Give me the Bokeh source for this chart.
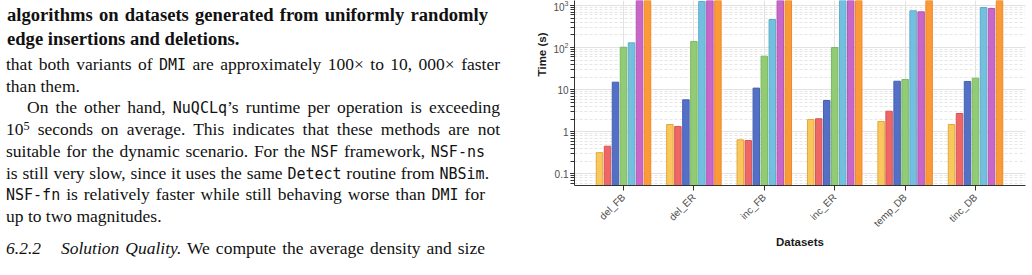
import math
from bokeh.plotting import figure
from bokeh.models import (ColumnDataSource, Range1d, FixedTicker, LogTicker,
                          LogTickFormatter, Title, Div)
from bokeh.transform import dodge
from bokeh.layouts import row
from bokeh.embed import file_html
from bokeh.resources import INLINE

# ---------------- data ----------------
categories = ["del_FB", "del_ER", "inc_FB", "inc_ER", "temp_DB", "tinc_DB"]
series_names = ["DMI", "DMI-s", "NSF-fn", "NSF-ns", "NBSim", "QCLq", "NuQCLq"]
dmi      = [0.32, 1.49, 0.645, 1.96, 1.76, 1.49]
dmi_s    = [0.455, 1.34, 0.62, 2.04, 3.08, 2.72]
nsf_fn   = [15.1, 5.75, 10.9, 5.54, 15.9, 15.7]
nsf_ns   = [102, 140, 62.5, 100.5, 17.5, 18.8]
nbsim    = [130, 1245, 465, 2400, 748, 896]
qclq     = [5200, 4800, 3900, 4100, 708, 849]
nuqclq   = [120000, 130000, 110000, 125000, 9000, 8500]
series_values = [dmi, dmi_s, nsf_fn, nsf_ns, nbsim, qclq, nuqclq]

fill_colors = ["#f9c85c", "#ee6666", "#5470c6", "#91cc75", "#73c0de", "#c966c9", "#fd9a38"]
line_colors = ["#e3a83c", "#d85454", "#4660b2", "#7db862", "#5fadcc", "#b455b4", "#ea8a28"]

# ---------------- text column ----------------
SERIF = "'Liberation Serif', serif"
MONO = "'DejaVu Sans Mono', monospace"

def m(t):
    return f"<span style=\"font-family:{MONO};font-size:15px\">{t}</span>"

text_lines = [
    # (kind, baseline, left, width or None, html)
    ("bold", 22, 7, 481, "algorithms on datasets generated from uniformly randomly"),
    ("bold", 45.5, 7, None, "edge insertions and deletions."),
    ("body", 70.5, 6, 494, f"that both variants of {m('DMI')} are approximately 100× to 10, 000× faster"),
    ("body", 92.3, 6, None, "than them."),
    ("body", 114.0, 27, 473, f"On the other hand, {m('NuQCLq')}’s runtime per operation is exceeding"),
    ("body", 135.8, 6, 494, "10<sup style=\"font-size:70%;line-height:0;vertical-align:0.45em\">5</sup> seconds on average. This indicates that these methods are not"),
    ("body", 157.5, 6, 479, f"suitable for the dynamic scenario. For the {m('NSF')} framework, {m('NSF-ns')}"),
    ("body", 179.3, 6, 483, f"is still very slow, since it uses the same {m('Detect')} routine from {m('NBSim')}."),
    ("body", 201.0, 6, 479, f"{m('NSF-fn')} is relatively faster while still behaving worse than {m('DMI')} for"),
    ("body", 222.5, 6, None, "up to two magnitudes."),
    ("body", 255, 6, 479, "<i>6.2.2<span style=\"display:inline-block;width:20px\"></span>Solution Quality.</i> We compute the average density and size"),
]

parts = []
for kind, base, left, width, html in text_lines:
    fs = 18.6 if kind == "bold" else 17.5
    weight = "bold" if kind == "bold" else "normal"
    top = base - 0.8375 * fs
    if width is None:
        align = "text-align:left;width:500px;"
    else:
        align = f"text-align:justify;text-align-last:justify;width:{width}px;"
    parts.append(
        f"<div style=\"position:absolute;left:{left}px;top:{top:.2f}px;{align}"
        f"font-family:{SERIF};font-size:{fs}px;line-height:{fs}px;font-weight:{weight};"
        f"color:#111;\">{html}</div>"
    )
div_html = ("<div style=\"position:relative;width:520px;height:275px;overflow:hidden;\">"
            + "".join(parts) + "</div>")
div = Div(text=div_html, width=520, height=275, margin=0)

# ---------------- chart ----------------
x_idx = list(range(len(categories)))
data = dict(x=x_idx)
for name, vals in zip(series_names, series_values):
    data[name] = vals
src = ColumnDataSource(data)

X0, X1 = -0.696, 5.71
Y0, Y1 = 0.053, 1315
p = figure(width=512, height=275, x_range=Range1d(X0, X1),
           y_range=Range1d(Y0, Y1), y_axis_type="log",
           output_backend="svg", toolbar_location=None,
           min_border_left=54, min_border_right=7, min_border_top=0,
           min_border_bottom=90, margin=0)
p.outline_line_color = None
p.background_fill_color = "white"

step = 0.1136
for i, name in enumerate(series_names):
    off = (i - 3) * step
    p.vbar(x=dodge("x", off), top=name, bottom=0.001, width=0.092, source=src,
           fill_color=fill_colors[i], line_color=line_colors[i], line_width=1)

# grids
p.ygrid.grid_line_color = "#e2e2e2"
p.ygrid.grid_line_width = 1
p.ygrid.minor_grid_line_color = "#e6e6e6"
p.ygrid.minor_grid_line_dash = "3 2"
p.xgrid.grid_line_color = "#e2e2e2"

# y axis
ya = p.yaxis[0]
ya.ticker = LogTicker(num_minor_ticks=10)
ya.formatter = LogTickFormatter(min_exponent=2)
ya.major_label_text_font = "Liberation Sans"
ya.major_label_text_font_size = "10px"
ya.major_label_text_color = "#4d4d4d"
ya.major_tick_out = 4
ya.major_tick_in = 0
ya.minor_tick_out = 4
ya.minor_tick_in = 0
ya.axis_line_color = "#333333"
ya.major_tick_line_color = "#333333"
ya.minor_tick_line_color = "#333333"
ya.major_label_standoff = 2

# x axis
xa = p.xaxis[0]
xa.ticker = FixedTicker(ticks=x_idx)
xa.major_label_overrides = {i: c for i, c in enumerate(categories)}
xa.major_label_orientation = math.pi / 4
xa.major_label_text_font = "Liberation Sans"
xa.major_label_text_font_size = "10px"
xa.major_label_text_color = "#4d4d4d"
xa.major_tick_out = 5
xa.major_tick_in = 0
xa.axis_line_color = "#333333"
xa.major_tick_line_color = "#333333"
xa.major_label_standoff = 5
xa.axis_label = "Datasets"
xa.axis_label_text_font = "Liberation Sans"
xa.axis_label_text_font_size = "11.5px"
xa.axis_label_text_font_style = "bold"
xa.axis_label_text_color = "#1a1a1a"
xa.axis_label_standoff = 0

# y-axis title, placed where the (taller, cropped) original shows it
ytitle = Title(text="Time (s)", align="right", offset=32, vertical_align="bottom",
               text_font="Liberation Sans", text_font_size="11.5px",
               text_font_style="bold", text_color="#1a1a1a")
try:
    ytitle.standoff = 5
except AttributeError:
    pass
p.add_layout(ytitle, "left")

layout = row(div, p)
open("out.html", "w").write(file_html(layout, INLINE))
